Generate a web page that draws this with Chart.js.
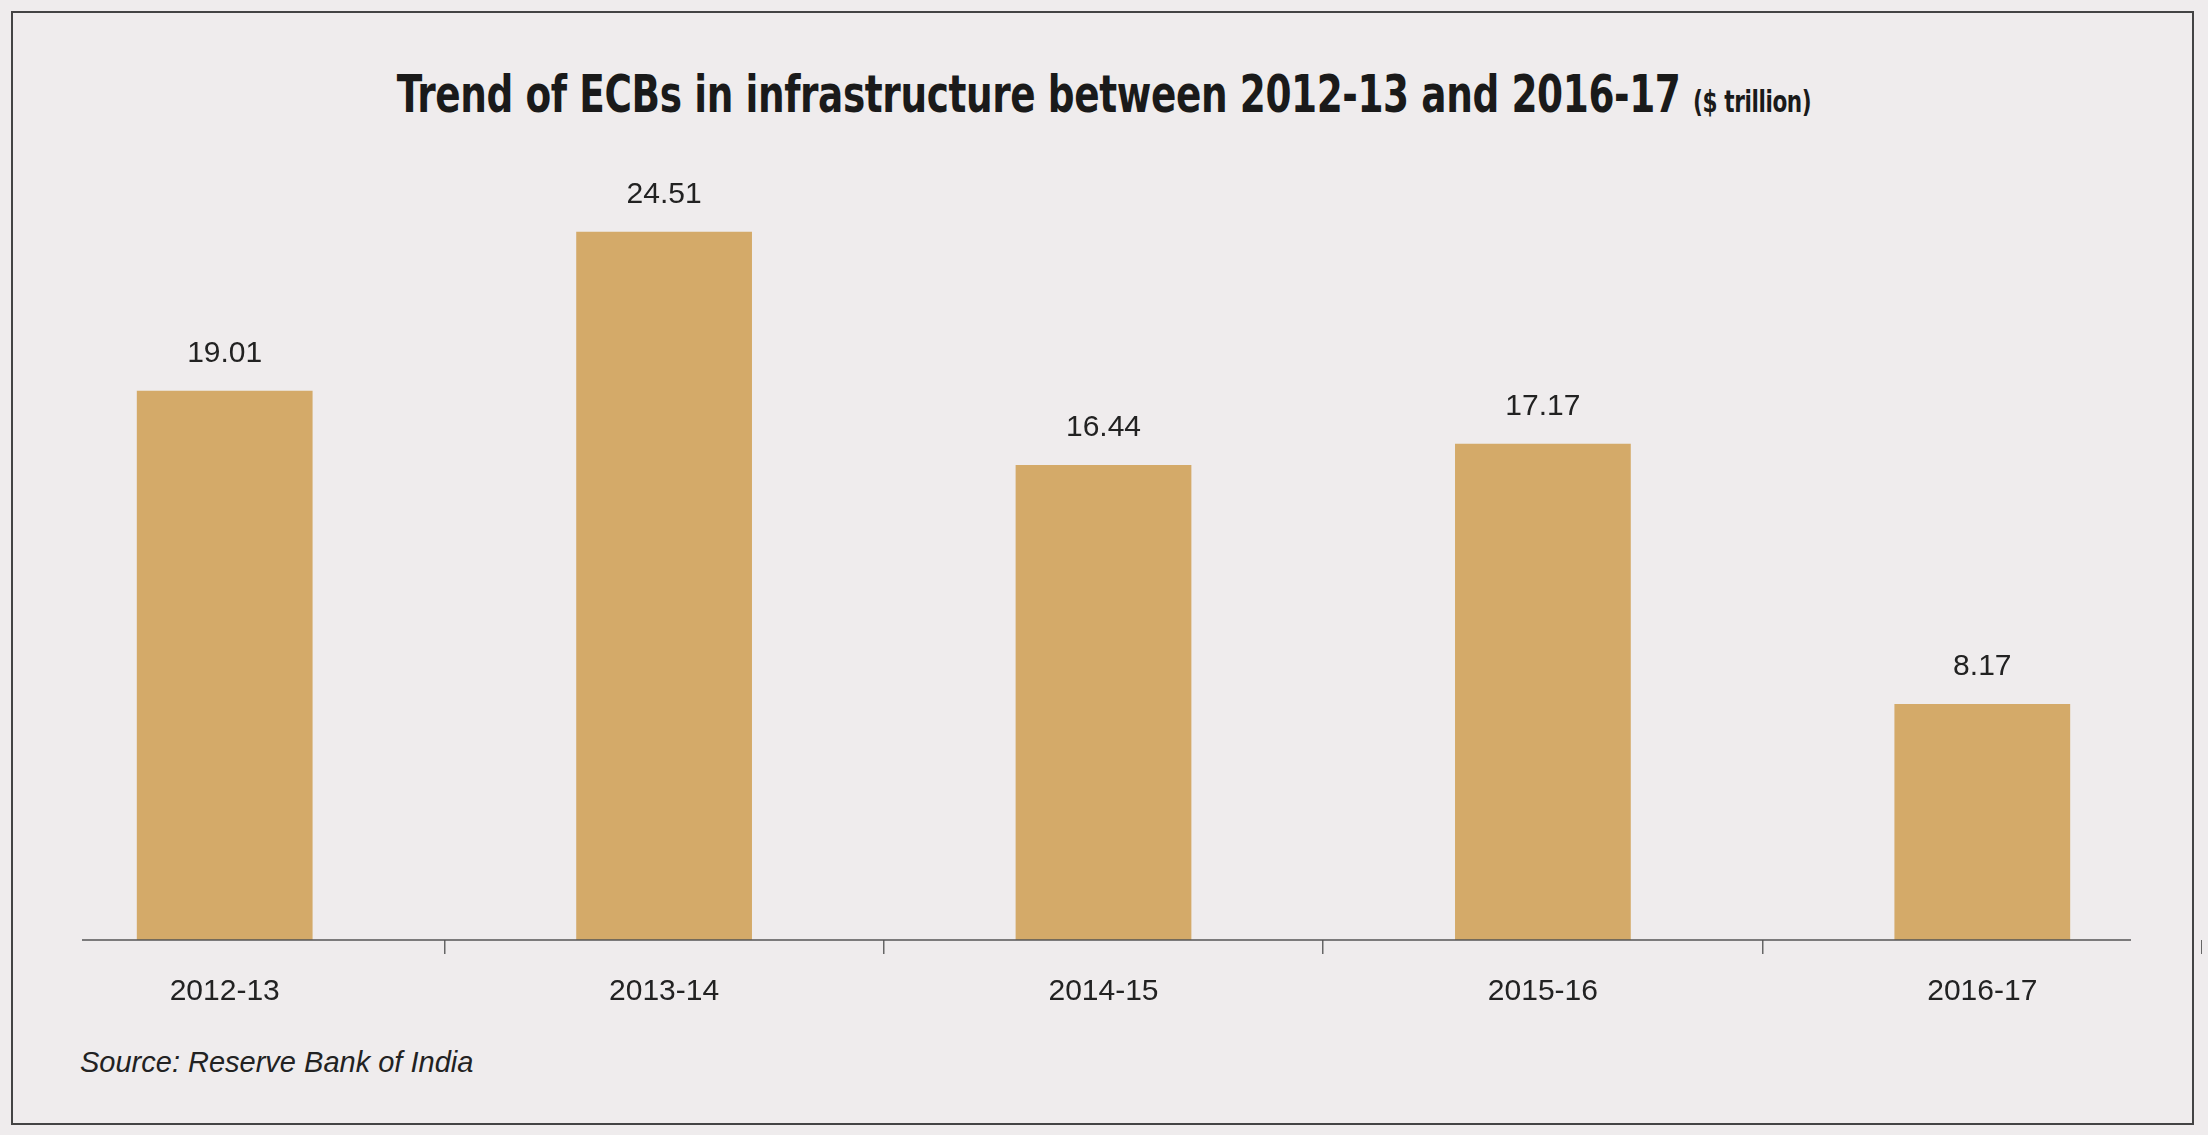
<!DOCTYPE html>
<html>
<head>
<meta charset="utf-8">
<script src="https://cdn.jsdelivr.net/npm/chart.js@4/dist/chart.umd.min.js"></script>
<style>
  html, body { margin: 0; padding: 0; background: #efeced; }
  body { width: 2208px; height: 1135px; position: relative; overflow: hidden; font-family: "Liberation Sans", Arial, sans-serif; }
  .frame { position: absolute; left: 11px; top: 11px; width: 2183px; height: 1114px; border: 2px solid #444; box-sizing: border-box; }
  .title { position: absolute; top: 64px; left: 0; width: 2208px; text-align: center; font-family: "DejaVu Sans Condensed", "DejaVu Sans", sans-serif; font-weight: bold; font-size: 52px; color: #1a1a1a; transform: scaleX(0.8); letter-spacing: -0.5px; }
  .title small { font-size: 30px; }
  .source { position: absolute; left: 80px; top: 1046px; font-style: italic; font-size: 29px; color: #222; }
  #wrap { position: absolute; left: 5px; top: 150px; width: 2197px; height: 880px; }
</style>
</head>
<body>
<div class="frame"></div>
<div class="title">Trend of ECBs in infrastructure between 2012-13 and 2016-17 <small>($ trillion)</small></div>
<div id="wrap"><canvas id="chart"></canvas></div>
<div class="source">Source: Reserve Bank of India</div>
<script>
// --- DATOS ---
const years = ['2012-13', '2013-14', '2014-15', '2015-16', '2016-17'];
const ecbValues = [19.01, 24.51, 16.44, 17.17, 8.17];

// etiquetas encima de cada barra + línea del eje (más corta que el área)
const valueLabels = {
    id: 'valueLabels',
    afterDatasetsDraw(chart) {
        const ctx = chart.ctx;
        const area = chart.chartArea;
        ctx.save();
        ctx.strokeStyle = '#555';
        ctx.lineWidth = 1.5;
        ctx.beginPath();
        ctx.moveTo(77, area.bottom);
        ctx.lineTo(2126, area.bottom);
        ctx.stroke();
        ctx.font = '30px "Liberation Sans", Arial, sans-serif';
        ctx.fillStyle = '#222';
        ctx.textAlign = 'center';
        ctx.textBaseline = 'middle';
        chart.getDatasetMeta(0).data.forEach((bar, i) => {
            ctx.fillText(ecbValues[i].toFixed(2), bar.x, bar.y - 37);
        });
        ctx.restore();
    }
};

new Chart(document.getElementById('chart'), {
    type: 'bar',
    data: {
        labels: years,
        datasets: [{
            data: ecbValues,
            backgroundColor: '#d4aa69',
            borderWidth: 0,
            categoryPercentage: 1,
            barPercentage: 0.4
        }]
    },
    options: {
        responsive: true,
        maintainAspectRatio: false,
        animation: false,
        layout: { padding: 0 },
        plugins: { legend: { display: false }, tooltip: { enabled: false } },
        scales: {
            y: { display: false, min: 0, max: 27.34 },
            x: {
                grid: {
                    offset: true, drawOnChartArea: false, tickLength: 14, lineWidth: 1.5,
                    color: c => (c.index === 0 || c.index === years.length) ? 'rgba(0,0,0,0)' : '#666'
                },
                border: { display: false },
                ticks: { color: '#222', padding: 20, font: { size: 30, family: '"Liberation Sans", Arial, sans-serif' } }
            }
        }
    },
    plugins: [valueLabels]
});
</script>
</body>
</html>
